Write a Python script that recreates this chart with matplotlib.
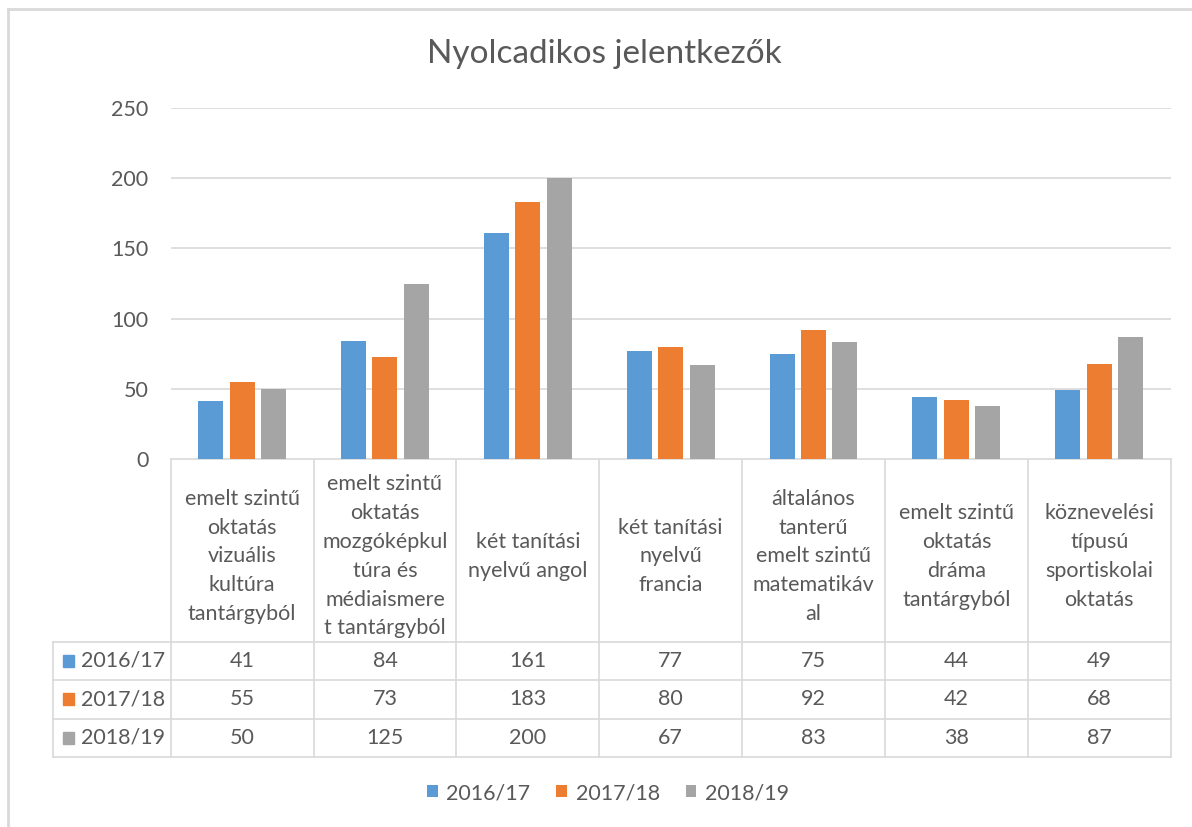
import matplotlib.pyplot as plt
from matplotlib import transforms
from matplotlib.patches import Rectangle

plt.rcParams['font.family'] = ['Lato', 'DejaVu Sans']

# data
categories = [
    "emelt szintű\noktatás\nvizuális\nkultúra\ntantárgyból",
    "emelt szintű\noktatás\nmozgóképkul\ntúra és\nmédiaismere\nt tantárgyból",
    "két tanítási\nnyelvű angol",
    "két tanítási\nnyelvű\nfrancia",
    "általános\ntanterű\nemelt szintű\nmatematikáv\nal",
    "emelt szintű\noktatás\ndráma\ntantárgyból",
    "köznevelési\ntípusú\nsportiskolai\noktatás",
]
series_names = ["2016/17", "2017/18", "2018/19"]
v_2016 = [41, 84, 161, 77, 75, 44, 49]
v_2017 = [55, 73, 183, 80, 92, 42, 68]
v_2018 = [50, 125, 200, 67, 83, 38, 87]
values = [v_2016, v_2017, v_2018]
colors = ['#5B9BD5', '#ED7D31', '#A5A5A5']

W, H = 1192, 827
txt = '#595959'
grid = '#D9D9D9'
fs = 15.5

fig = plt.figure(figsize=(W / 100, H / 100), dpi=100)

# plot area in pixels
x0, x1 = 170.7, 1170.7
y_top, y_zero = 108, 459
ax = fig.add_axes([x0 / W, 1 - y_zero / H, (x1 - x0) / W, (y_zero - y_top) / H])

n = len(categories)
bw, off = 0.175, 0.22
for k, (name, vals) in enumerate(zip(series_names, values)):
    ax.bar([i + (k - 1) * off for i in range(n)], vals, width=bw,
           color=colors[k], label=name, zorder=3)

ax.set_xlim(-0.5, n - 0.5)
ax.set_ylim(0, 250)
ax.set_yticks(range(0, 251, 50))
ax.set_xticks([])
ax.grid(axis='y', color=grid, lw=1.2, zorder=0)
for s in ax.spines.values():
    s.set_visible(False)
ax.tick_params(axis='y', length=0, pad=16, labelsize=fs, labelcolor=txt)

# overlay in pixel space for the data table
ov = fig.add_axes([0, 0, 1, 1], zorder=-1)
ov.set_xlim(0, W)
ov.set_ylim(H, 0)
ov.axis('off')
tr = transforms.blended_transform_factory(ax.transData, ov.transData)

hdr_bot = 641.7
row_h = 38.5
rows_y = [hdr_bot + r * row_h for r in range(4)]
xl = -0.5 - (x0 - 53) / ((x1 - x0) / n)

# horizontal table lines
ov.plot([-0.5, n - 0.5], [y_zero, y_zero], color=grid, lw=1.2, transform=tr)
for y in rows_y:
    ov.plot([xl, n - 0.5], [y, y], color=grid, lw=1.2, transform=tr)
# vertical table lines
ov.plot([xl, xl], [hdr_bot, rows_y[-1]], color=grid, lw=1.2, transform=tr)
for i in range(n + 1):
    ov.plot([i - 0.5, i - 0.5], [y_zero, rows_y[-1]], color=grid, lw=1.2, transform=tr)

# header texts
for i, c in enumerate(categories):
    ov.text(i, (y_zero + hdr_bot) / 2 + 6, c, transform=tr, ha='center', va='center',
            fontsize=fs, color=txt, linespacing=1.55)

# rows
for k, (name, vals) in enumerate(zip(series_names, values)):
    yc = rows_y[k] + row_h / 2
    ov.add_patch(Rectangle((62.7, yc - 6), 11.6, 11.6, color=colors[k]))
    ov.text(81.5, yc, name, ha='left', va='center', fontsize=fs, color=txt)
    for i, v in enumerate(vals):
        ov.text(i, yc, str(v), transform=tr, ha='center', va='center', fontsize=fs, color=txt)

# outer frame (top and left edges visible)
ov.plot([8, W], [9, 9], color=grid, lw=2)
ov.plot([8, 8], [9, H], color=grid, lw=2)

fig.text(604 / W, 1 - 54 / H, 'Nyolcadikos jelentkezők', ha='center', va='center',
         fontsize=24, color=txt)

fig.legend(loc='center', bbox_to_anchor=(608 / W, 1 - 793 / H), ncol=3, frameon=False,
           fontsize=fs, labelcolor=txt, handlelength=0.5, handleheight=0.5,
           handletextpad=0.4, columnspacing=1.2)

fig.savefig('out.png', dpi=100)
